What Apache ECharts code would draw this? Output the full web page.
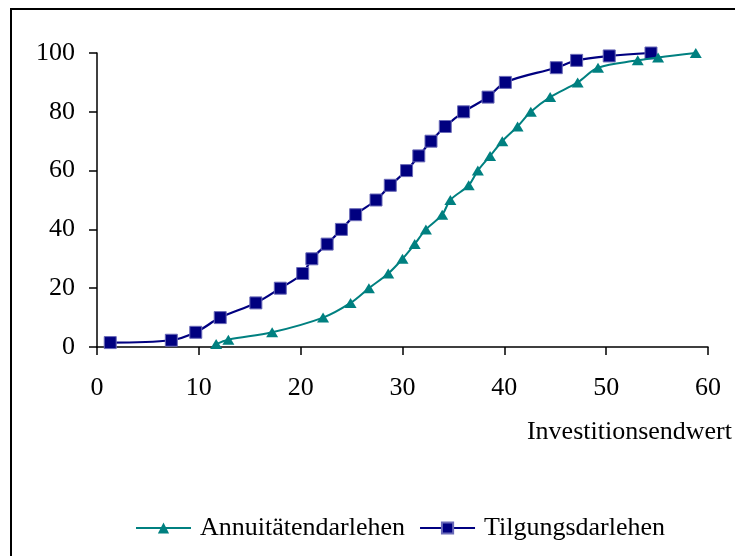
<!DOCTYPE html>
<html>
<head>
<meta charset="utf-8">
<script src="https://cdn.jsdelivr.net/npm/echarts@6/dist/echarts.min.js"></script>
<style>
html,body{margin:0;padding:0;background:#fff;}
#chart{width:735px;height:556px;}
</style>
</head>
<body>
<div id="chart"></div>
<script>
// Data
var seriesNames = ['Annuitätendarlehen', 'Tilgungsdarlehen'];
var xAxisName = 'Investitionsendwert';

var annuitaetX = [11.7, 12.9, 17.2, 22.2, 24.9, 26.7, 28.6, 30.0, 31.2, 32.3, 33.9, 34.7, 36.5, 37.4, 38.6, 39.8, 41.3, 42.6, 44.5, 47.2, 49.2, 53.1, 55.1, 58.8];
var annuitaetY = [1, 2.5, 5, 10, 15, 20, 25, 30, 35, 40, 45, 50, 55, 60, 65, 70, 75, 80, 85, 90, 95, 97.5, 98.5, 100];

var tilgungX = [1.3, 7.3, 9.7, 12.1, 15.6, 18.0, 20.2, 21.1, 22.6, 24.0, 25.4, 27.4, 28.8, 30.4, 31.6, 32.8, 34.2, 36.0, 38.4, 40.1, 45.1, 47.1, 50.3, 54.4];
var tilgungY = [1.5, 2.3, 5, 10, 15, 20, 25, 30, 35, 40, 45, 50, 55, 60, 65, 70, 75, 80, 85, 90, 95, 97.5, 99, 100];

var xTicks = {min: 0, max: 60, interval: 10};
var yTicks = {min: 0, max: 100, interval: 20};

function pairs(xs, ys) {
  var out = [];
  for (var i = 0; i < xs.length; i++) out.push([xs[i], ys[i]]);
  return out;
}

var FONT = '"Liberation Serif", "Times New Roman", serif';
var chart = echarts.init(document.getElementById('chart'), null, {renderer: 'canvas'});
chart.setOption({
  backgroundColor: '#ffffff',
  animation: false,
  textStyle: {fontFamily: FONT, color: '#000'},
  graphic: [{
    type: 'rect',
    shape: {x: 11, y: 9, width: 900, height: 700},
    style: {fill: 'none', stroke: '#000', lineWidth: 2},
    silent: true,
    z: 100
  }],
  grid: {left: 97, right: 26, top: 53, bottom: 209, containLabel: false},
  legend: {
    left: 130,
    top: 510,
    itemWidth: 55,
    itemHeight: 14,
    itemGap: 14,
    textStyle: {fontFamily: FONT, fontSize: 26, color: '#000', padding: [0, 0, 0, 4]},
    data: seriesNames
  },
  xAxis: {
    type: 'value',
    min: xTicks.min, max: xTicks.max, interval: xTicks.interval,
    name: xAxisName,
    nameLocation: 'end',
    nameGap: 24,
    nameTextStyle: {fontFamily: FONT, fontSize: 26, color: '#000', align: 'right', verticalAlign: 'top', padding: [72, 0, 0, 0]},
    axisLine: {lineStyle: {color: '#000', width: 1.5}},
    axisTick: {show: true, inside: false, length: 8, lineStyle: {color: '#000', width: 1.5}},
    axisLabel: {fontFamily: FONT, fontSize: 26, color: '#000', margin: 28},
    splitLine: {show: false}
  },
  yAxis: {
    type: 'value',
    min: yTicks.min, max: yTicks.max, interval: yTicks.interval,
    axisLine: {show: true, lineStyle: {color: '#000', width: 1.5}},
    axisTick: {show: true, inside: false, length: 8, lineStyle: {color: '#000', width: 1.5}},
    axisLabel: {fontFamily: FONT, fontSize: 26, color: '#000', margin: 22},
    splitLine: {show: false}
  },
  series: [{
    name: seriesNames[0],
    type: 'line',
    smooth: 0.35,
    z: 3,
    data: pairs(annuitaetX, annuitaetY),
    symbol: 'triangle',
    symbolSize: [12, 10],
    lineStyle: {color: '#008080', width: 2},
    itemStyle: {color: '#008080', borderColor: '#008080', borderWidth: 0}
  }, {
    name: seriesNames[1],
    type: 'line',
    smooth: 0.35,
    z: 2,
    data: pairs(tilgungX, tilgungY),
    symbol: 'rect',
    symbolSize: 12,
    lineStyle: {color: '#000080', width: 2.2},
    itemStyle: {color: '#000080', borderColor: '#6a6ab8', borderWidth: 1}
  }]
});
</script>
</body>
</html>
